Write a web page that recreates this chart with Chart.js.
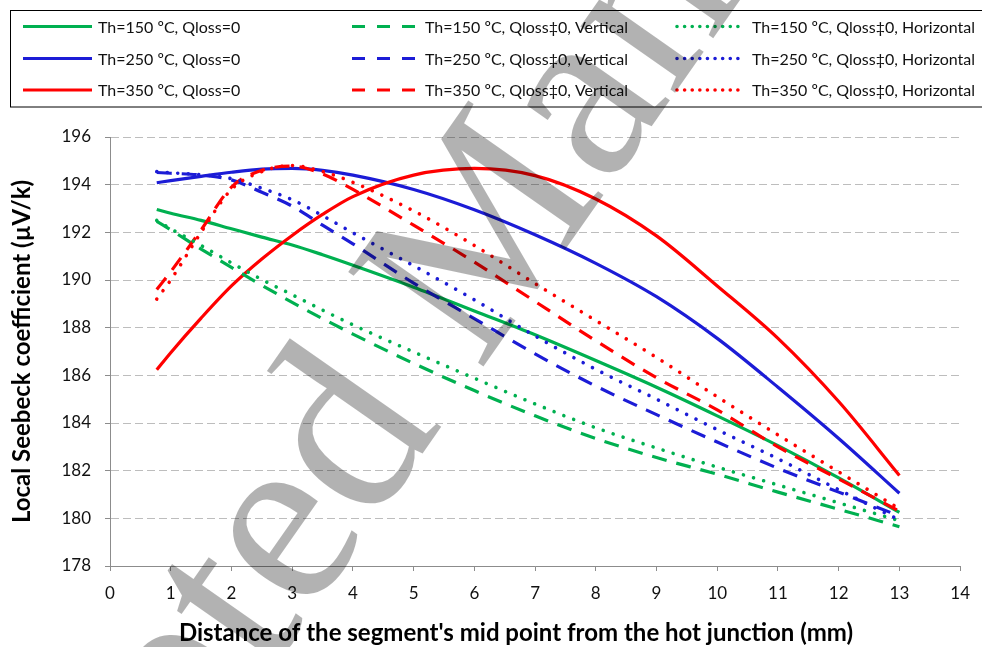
<!DOCTYPE html>
<html>
<head>
<meta charset="utf-8">
<script src="https://cdn.jsdelivr.net/npm/chart.js@4.4.0/dist/chart.umd.min.js"></script>
<style>
  html, body { margin: 0; padding: 0; background: #ffffff; }
  canvas { display: block; }
</style>
</head>
<body>
<canvas id="seebeck" width="982" height="647"></canvas>
<script>
// Segment mid-point positions along the leg (mm)
const distanceMm = [0.77, 1, 1.5, 2, 2.5, 3, 3.5, 4, 5, 6, 7, 8, 9, 10, 11, 12, 13];

// Local Seebeck coefficient (µV/K) for each case
const th150NoLoss   = [192.96, 192.8, 192.5, 192.15, 191.8, 191.47, 191.06, 190.62, 189.7, 188.7, 187.7, 186.62, 185.5, 184.3, 183.05, 181.7, 180.25];
const th250NoLoss   = [194.08, 194.17, 194.35, 194.52, 194.65, 194.68, 194.6, 194.4, 193.8, 192.95, 191.9, 190.7, 189.3, 187.55, 185.5, 183.35, 181.05];
const th350NoLoss   = [186.23, 186.95, 188.4, 189.75, 190.88, 191.87, 192.75, 193.5, 194.4, 194.68, 194.38, 193.4, 191.85, 189.75, 187.55, 184.9, 181.8];
const th150Vertical = [192.46, 192.1, 191.3, 190.53, 189.78, 189.06, 188.38, 187.73, 186.5, 185.36, 184.3, 183.35, 182.55, 181.85, 181.1, 180.38, 179.65];
const th250Vertical = [194.51, 194.48, 194.4, 194.2, 193.68, 193.1, 192.3, 191.52, 189.87, 188.38, 186.9, 185.55, 184.35, 183.2, 182.1, 181.1, 180.1];
const th350Vertical = [189.6, 190.35, 192.1, 193.9, 194.6, 194.78, 194.45, 193.8, 192.3, 190.75, 189.1, 187.45, 185.9, 184.55, 183.0, 181.65, 180.3];
const th150Horizontal = [192.5, 192.15, 191.45, 190.72, 190.02, 189.38, 188.74, 188.12, 186.98, 185.88, 184.8, 183.8, 182.95, 182.15, 181.4, 180.65, 179.9];
const th250Horizontal = [194.55, 194.5, 194.42, 194.25, 193.85, 193.37, 192.7, 191.98, 190.6, 189.17, 187.65, 186.25, 185.0, 183.72, 182.5, 181.2, 179.93];
const th350Horizontal = [189.2, 190.0, 192.0, 193.8, 194.55, 194.8, 194.55, 194.1, 192.9, 191.45, 189.85, 188.3, 186.75, 185.1, 183.5, 181.95, 180.4];

const seriesLabels = [
  'Th=150 ºC, Qloss=0',
  'Th=250 ºC, Qloss=0',
  'Th=350 ºC, Qloss=0',
  'Th=150 ºC, Qloss‡0, Vertical',
  'Th=250 ºC, Qloss‡0, Vertical',
  'Th=350 ºC, Qloss‡0, Vertical',
  'Th=150 ºC, Qloss‡0, Horizontal',
  'Th=250 ºC, Qloss‡0, Horizontal',
  'Th=350 ºC, Qloss‡0, Horizontal'
];
const seriesValues = [
  th150NoLoss, th250NoLoss, th350NoLoss,
  th150Vertical, th250Vertical, th350Vertical,
  th150Horizontal, th250Horizontal, th350Horizontal
];

// Axis ranges and tick steps
const xTicks = { min: 0, max: 14, step: 1 };
const yTicks = { min: 178, max: 196, step: 2 };

const xTitle = "Distance of the segment's mid point from the hot junction (mm)";
const yTitle = 'Local Seebeck coefficient (µV/k)';
const watermarkText = 'Accepted Manuscript';

// Styling
const GREEN = '#00b050';
const BLUE = '#1c1cd6';
const RED = '#ff0000';
const lineColors = [GREEN, BLUE, RED];
const FONT = 'Lato, "Open Sans", sans-serif';
const DASH = [15, 10];
const DOT = [0.01, 10.5];
const LEGEND_DASH = [13, 12];
const LEGEND_DOT = [0.01, 7.6];

function styleFor(i) {
  const group = Math.floor(i / 3); // 0 solid, 1 dashed, 2 dotted
  return {
    color: lineColors[i % 3],
    dash: group === 0 ? [] : group === 1 ? DASH : DOT,
    legendDash: group === 0 ? [] : group === 1 ? LEGEND_DASH : LEGEND_DOT,
    cap: group === 2 ? 'round' : 'butt',
    width: group === 2 ? 3.6 : 3.2
  };
}

const datasets = seriesValues.map((vals, i) => {
  const s = styleFor(i);
  return {
    label: seriesLabels[i],
    data: distanceMm.map((x, k) => ({ x: x, y: vals[k] })),
    borderColor: s.color,
    backgroundColor: s.color,
    borderWidth: s.width,
    borderDash: s.dash,
    borderCapStyle: s.cap,
    pointRadius: 0,
    pointHoverRadius: 0,
    fill: false,
    cubicInterpolationMode: 'monotone',
    order: seriesValues.length - 1 - i
  };
});

// Boxed three-column legend across the top
const boxedLegend = {
  id: 'boxedLegend',
  afterDraw(chart) {
    const ctx = chart.ctx;
    ctx.save();
    ctx.strokeStyle = '#000';
    ctx.lineWidth = 1;
    ctx.strokeRect(10.5, 10.5, 990, 96.5);
    const cols = [
      { x1: 23, x2: 92, tx: 98 },
      { x1: 352, x2: 417, tx: 425 },
      { x1: 677, x2: 739, tx: 752 }
    ];
    const rows = [26.5, 58.5, 90];
    ctx.font = '16px ' + FONT;
    ctx.textBaseline = 'middle';
    ctx.textAlign = 'left';
    chart.data.datasets.forEach((ds, i) => {
      const s = styleFor(i);
      const c = cols[Math.floor(i / 3)];
      const y = rows[i % 3];
      ctx.beginPath();
      ctx.setLineDash(s.legendDash);
      ctx.lineCap = s.cap;
      ctx.lineWidth = s.width;
      ctx.strokeStyle = ds.borderColor;
      ctx.moveTo(c.x1, y);
      ctx.lineTo(c.x2, y);
      ctx.stroke();
      ctx.setLineDash([]);
      ctx.fillStyle = '#111';
      ctx.fillText(ds.label, c.tx, y + 1);
    });
    ctx.restore();
  }
};

// Horizontal axis title under the plot
const bottomTitle = {
  id: 'bottomTitle',
  afterDraw(chart) {
    const ctx = chart.ctx;
    ctx.save();
    ctx.font = 'bold 24px ' + FONT;
    ctx.fillStyle = '#000';
    ctx.textAlign = 'center';
    ctx.textBaseline = 'middle';
    ctx.fillText(xTitle, 516, 633);
    ctx.restore();
  }
};

// Large translucent diagonal stamp over the figure,
// anchored at the bottom vertex of its capital M
const stamp = {
  id: 'stamp',
  afterDraw(chart) {
    const ctx = chart.ctx;
    const size = 252;
    const angle = -55 * Math.PI / 180;
    ctx.save();
    ctx.font = size + 'px "Liberation Serif", serif';
    ctx.fillStyle = 'rgba(0,0,0,0.3)';
    ctx.textBaseline = 'alphabetic';
    ctx.textAlign = 'left';
    const pre = ctx.measureText('Accepted ').width;
    const mW = ctx.measureText('M').width;
    ctx.translate(537, 290);
    ctx.rotate(angle);
    ctx.fillText(watermarkText, -(pre + 0.45 * mW), 0);
    ctx.restore();
  }
};

new Chart(document.getElementById('seebeck'), {
  type: 'line',
  data: { datasets: datasets },
  options: {
    responsive: false,
    animation: false,
    devicePixelRatio: 1,
    layout: { padding: { left: 0, right: 20, top: 137, bottom: 0 } },
    plugins: {
      legend: { display: false },
      tooltip: { enabled: false }
    },
    scales: {
      x: {
        type: 'linear',
        min: xTicks.min,
        max: xTicks.max,
        afterFit(scale) { scale.height = 81; },
        ticks: {
          stepSize: xTicks.step,
          padding: 12,
          color: '#111',
          font: { family: FONT, size: 17 }
        },
        grid: {
          drawOnChartArea: false,
          drawTicks: true,
          tickLength: 5,
          tickColor: '#8c8c8c',
          tickWidth: 1
        },
        border: { display: true, color: '#8c8c8c', width: 1 }
      },
      y: {
        type: 'linear',
        min: yTicks.min,
        max: yTicks.max,
        afterFit(scale) { scale.width = 110; },
        ticks: {
          stepSize: yTicks.step,
          padding: 14,
          color: '#111',
          font: { family: FONT, size: 17 }
        },
        grid: {
          color: '#bdbdbd',
          lineWidth: 1,
          drawTicks: true,
          tickLength: 5,
          tickColor: '#8c8c8c',
          tickWidth: 1,
          tickBorderDash: []
        },
        border: { display: true, color: '#8c8c8c', width: 1, dash: [8, 4] },
        title: {
          display: true,
          text: yTitle,
          color: '#000',
          font: { family: FONT, size: 24, weight: 'bold' },
          padding: { top: 8, bottom: 0 }
        }
      }
    }
  },
  plugins: [boxedLegend, bottomTitle, stamp]
});
</script>
</body>
</html>
